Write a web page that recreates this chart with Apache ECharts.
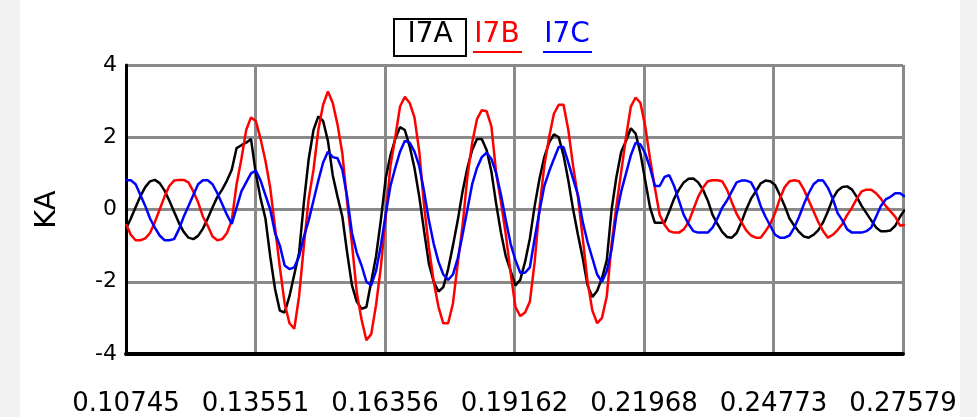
<!DOCTYPE html>
<html>
<head>
<meta charset="utf-8">
<title>I7 phase currents</title>
<script src="https://cdn.jsdelivr.net/npm/echarts@6/dist/echarts.min.js"></script>
<style>
  html, body { margin: 0; padding: 0; }
  #chart {
    width: 977px; height: 417px;
    background: linear-gradient(to right, #f2f2f2 0, #f2f2f2 20px, #ffffff 20px, #ffffff 960px, #f2f2f2 960px);
  }
</style>
</head>
<body>
<div id="chart"></div>
<script>
// Recorder samples: 16 per 60 Hz cycle, starting at t = 0.10745 s
const SAMPLE_MS = 1000 / 960;
const TICK_MS = 28.05667;          // spacing between time tick labels
const xTickLabels = ['0.10745', '0.13551', '0.16356', '0.19162', '0.21968', '0.24773', '0.27579'];
const yTickLabels = ['-4', '-2', '0', '2', '4'];

const seriesNames = ['I7A', 'I7B', 'I7C'];
const seriesColors = ['#000000', '#ff0000', '#0000ff'];

// Phase A current, kA
const i7a = [
  -0.53, -0.25, 0.06, 0.37, 0.62, 0.78, 0.82, 0.73, 0.53, 0.25,
  -0.06, -0.37, -0.62, -0.78, -0.82, -0.73, -0.53, -0.25, 0.06, 0.35,
  0.55, 0.8, 1.1, 1.7, 1.78, 1.85, 1.95, 1.0, 0.3, -0.25,
  -1.3, -2.2, -2.8, -2.85, -2.4, -1.8, -1.2, 0.2, 1.4, 2.2,
  2.58, 2.45, 1.9, 0.95, 0.35, -0.2, -1.2, -2.1, -2.55, -2.75,
  -2.7, -2.0, -1.3, -0.3, 0.85, 1.5, 1.95, 2.28, 2.2, 1.75,
  1.15, 0.35, -0.6, -1.5, -2.0, -2.27, -2.15, -1.65, -1.0, -0.3,
  0.5, 1.15, 1.65, 1.95, 1.95, 1.65, 1.05, 0.15, -0.65, -1.3,
  -1.7, -2.1, -1.95, -1.45, -0.8, 0.1, 0.85, 1.45, 1.85, 2.08,
  2.0, 1.5, 0.8, 0.0, -0.7, -1.35, -2.1, -2.42, -2.25, -1.9,
  -1.4, 0.0, 0.9, 1.6, 1.9, 2.25, 2.1, 1.55, 0.8, 0.05,
  -0.37, -0.37, -0.37, -0.05, 0.3, 0.55, 0.75, 0.85, 0.86, 0.75,
  0.55, 0.25, -0.15, -0.4, -0.62, -0.76, -0.78, -0.65, -0.35, 0.0,
  0.3, 0.5, 0.72, 0.8, 0.78, 0.68, 0.4, 0.1, -0.25, -0.45,
  -0.62, -0.75, -0.78, -0.7, -0.57, -0.35, -0.05, 0.3, 0.52, 0.62,
  0.64, 0.55, 0.35, 0.1, -0.1, -0.3, -0.5, -0.6, -0.6, -0.58,
  -0.45, -0.2, 0.0
];

// Phase B current, kA
const i7b = [
  -0.4, -0.7, -0.85, -0.85, -0.8, -0.65, -0.35, 0.0, 0.35, 0.65,
  0.8, 0.82, 0.82, 0.75, 0.5, 0.2, -0.2, -0.45, -0.75, -0.85,
  -0.82, -0.65, -0.3, 0.7, 1.4, 2.2, 2.55, 2.45, 1.95, 1.35,
  0.6, -0.5, -1.6, -2.6, -3.15, -3.3, -2.4, -1.0, 0.3, 1.1,
  2.2, 2.9, 3.27, 2.95, 2.35, 1.55, 0.2, -0.95, -2.3, -3.05,
  -3.62, -3.45, -2.65, -1.6, -0.2, 1.2, 2.0, 2.85, 3.12, 2.95,
  2.55, 1.6, 0.1, -1.05, -2.0, -2.7, -3.15, -3.15, -2.6, -1.5,
  -0.45, 0.9, 1.85, 2.5, 2.75, 2.72, 2.3, 1.0, 0.2, -0.7,
  -1.75, -2.7, -2.95, -2.85, -2.55, -1.45, 0.05, 1.2, 2.0, 2.65,
  2.9, 2.9, 2.2, 1.2, 0.35, -0.8, -2.0, -2.8, -3.15, -3.0,
  -2.4, -0.95, 0.1, 1.05, 2.0, 2.85, 3.1, 2.95, 2.3, 1.4,
  0.6, -0.15, -0.42, -0.6, -0.64, -0.64, -0.55, -0.35, 0.0, 0.35,
  0.6, 0.78, 0.81, 0.81, 0.78, 0.55, 0.2, -0.12, -0.35, -0.58,
  -0.72, -0.78, -0.78, -0.6, -0.4, -0.1, 0.3, 0.62, 0.78, 0.81,
  0.78, 0.55, 0.25, -0.05, -0.35, -0.6, -0.78, -0.7, -0.57, -0.4,
  -0.15, 0.05, 0.3, 0.5, 0.55, 0.55, 0.45, 0.3, 0.1, -0.05,
  -0.2, -0.45, -0.42
];

// Phase C current, kA
const i7c = [
  0.81, 0.81, 0.7, 0.4, 0.1, -0.25, -0.5, -0.72, -0.85, -0.85,
  -0.82, -0.55, -0.2, 0.1, 0.4, 0.7, 0.81, 0.81, 0.7, 0.45,
  0.15, -0.15, -0.4, 0.05, 0.5, 0.75, 1.0, 1.08, 0.8, 0.4,
  0.0, -0.65, -1.0, -1.55, -1.65, -1.6, -1.3, -0.75, -0.3, 0.25,
  0.8, 1.3, 1.6, 1.45, 1.42, 1.1, 0.35, -0.65, -1.2, -1.55,
  -2.0, -2.1, -1.7, -1.0, -0.15, 0.65, 1.15, 1.6, 1.9, 1.85,
  1.6, 1.2, 0.5, -0.3, -0.95, -1.45, -1.8, -1.95, -1.8, -1.35,
  -0.7, 0.0, 0.7, 1.15, 1.45, 1.57, 1.4, 1.0, 0.4, -0.3,
  -0.95, -1.4, -1.75, -1.75, -1.6, -0.8, -0.05, 0.65, 1.05, 1.4,
  1.73, 1.73, 1.3, 0.85, 0.4, -0.35, -0.9, -1.35, -1.8, -2.0,
  -1.7, -1.1, -0.15, 0.5, 1.0, 1.5, 1.85, 1.8, 1.55, 1.15,
  0.65, 0.65, 0.9, 0.95, 0.65, 0.25, -0.15, -0.4, -0.6, -0.64,
  -0.64, -0.64, -0.5, -0.25, 0.05, 0.25, 0.5, 0.75, 0.8, 0.8,
  0.75, 0.5, 0.1, -0.2, -0.45, -0.7, -0.78, -0.78, -0.72, -0.5,
  -0.2, 0.15, 0.45, 0.7, 0.81, 0.8, 0.6, 0.3, -0.1, -0.3,
  -0.55, -0.64, -0.64, -0.64, -0.6, -0.5, -0.2, 0.1, 0.28, 0.35,
  0.45, 0.45, 0.35
];

const phaseValues = [i7a, i7b, i7c];

// x runs in tick units (one unit per labelled time step)
function toPoints(values) {
  return values.map((v, i) => [i * SAMPLE_MS / TICK_MS, v]);
}

const chart = echarts.init(document.getElementById('chart'), null, { renderer: 'canvas' });

const FONT = '"DejaVu Sans", "Liberation Sans", sans-serif';
const GRID_GRAY = '#8a8a8a';

// Legend: boxed first entry, underlined others
const legendX = [430, 497, 567];
const legendGraphics = [];
seriesNames.forEach((name, k) => {
  legendGraphics.push({
    type: 'text', x: legendX[k], y: 35, z: 10,
    style: {
      text: name, fill: seriesColors[k], font: '28px ' + FONT,
      align: 'center', verticalAlign: 'middle'
    }
  });
});
legendGraphics.push({
  type: 'rect', z: 10,
  shape: { x: 394, y: 19, width: 72, height: 37 },
  style: { fill: 'none', stroke: '#000', lineWidth: 2 }
});
[1, 2].forEach(k => {
  legendGraphics.push({
    type: 'line', z: 10,
    shape: { x1: legendX[k] - 24, y1: 52, x2: legendX[k] + 25, y2: 52 },
    style: { stroke: seriesColors[k], lineWidth: 2 }
  });
});

chart.setOption({
  animation: false,
  backgroundColor: 'transparent',
  grid: { left: 126, top: 65, width: 777, height: 293, show: true, backgroundColor: '#ffffff', borderWidth: 0 },
  xAxis: {
    type: 'value', min: 0, max: xTickLabels.length - 1, interval: 1,
    axisLine: { show: true, onZero: false, lineStyle: { color: '#000', width: 4 } },
    axisTick: { show: false },
    splitLine: { show: true, lineStyle: { color: GRID_GRAY, width: 3 } },
    axisLabel: {
      margin: 37, color: '#000', fontSize: 26, fontFamily: FONT,
      showMinLabel: true, showMaxLabel: true,
      formatter: v => xTickLabels[Math.round(v)]
    }
  },
  yAxis: {
    type: 'value', min: -4, max: 4, interval: 2,
    name: 'KA', nameLocation: 'middle', nameRotate: 90, nameGap: 64,
    nameTextStyle: { color: '#000', fontSize: 29, fontFamily: FONT },
    axisLine: { show: true, lineStyle: { color: '#000', width: 3 } },
    axisTick: { show: false },
    splitLine: { show: true, lineStyle: { color: GRID_GRAY, width: 3 } },
    axisLabel: {
      margin: 9, color: '#000', fontSize: 22, fontFamily: FONT,
      formatter: v => yTickLabels[Math.round((v + 4) / 2)]
    }
  },
  graphic: legendGraphics,
  series: seriesNames.map((name, k) => ({
    name: name,
    type: 'line',
    data: toPoints(phaseValues[k]),
    showSymbol: false,
    clip: true,
    lineStyle: { color: seriesColors[k], width: 2.5 },
    itemStyle: { color: seriesColors[k] },
    z: 2 + k
  }))
});
</script>
</body>
</html>
